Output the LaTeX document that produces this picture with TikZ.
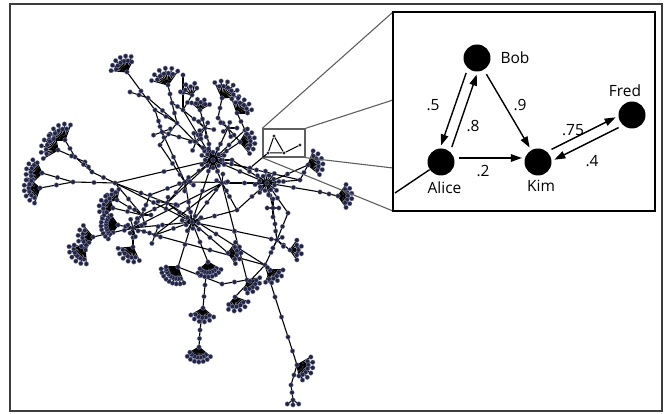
\documentclass[tikz,border=0pt]{standalone}
\usepackage{fontspec}
\setmainfont{Open Sans}
\usetikzlibrary{arrows.meta}
\definecolor{dotfill}{RGB}{34,36,66}
\definecolor{dotrim}{RGB}{140,145,180}
\definecolor{framegray}{RGB}{60,60,60}
\definecolor{zoomgray}{RGB}{95,95,95}
\tikzset{
  dot/.style={circle,fill=dotfill,draw=dotrim,line width=0.3pt,inner sep=0pt,minimum size=4.6pt},
  tdot/.style={circle,fill=dotfill,inner sep=0pt,minimum size=3.4pt},
  edge/.style={line width=1.1pt,black},
  person/.style={circle,fill=black,inner sep=0pt,minimum size=27pt},
  arr/.style={-{Triangle[length=11pt,width=7.5pt]},line width=1.4pt,shorten <=5pt,shorten >=3pt},
  pname/.style={font=\fontsize{15.5}{18}\selectfont},
  zoomline/.style={zoomgray,line width=1.1pt},
}
% hub name / x / y
\newcommand{\hublist}{a1/127/72, a2/168/85, a3/200/110, a4/222/98, a5/237/113, a6/240/142,
  a7/65/140, a8/58/150, a9/42/173, a10/40/188,
  a11/117/200, a12/113/208, a13/118/225, a14/93/237, a15/85/248, a16/133/247,
  a17/178/267, a18/208/262, a19/228/253, a20/247/280, a21/235/297, a22/203/308, a23/199/347,
  a24/270/270, a25/290/250, a26/297/365, a28/308/165, a29/338/196,
  h1/213/160, h2/192/222, h3/267/183, h4/167/203, h5/115/183, h6/73/182,
  h7/277/240, h8/265/265, h9/185/182, h10/222/183, h11/142/215, h12/133/228, h13/155/235,
  h14/237/210, h15/273/208, h16/288/213, h17/183/110, h18/177/123, h19/148/98, h20/155/110,
  h22/288/337, h23/275/297, h25/245/130, h26/320/192, h27/300/180,
  u1/205/128, u2/196/142, u3/228/128, u4/162/132, u5/232/160, u6/192/95,
  n1/130/92, m1/172/103, m2/183/75, m3/218/118, m4/75/157, m5/92/172, m6/85/162,
  m9/222/284, m11/250/168, m12/205/285, m13/200/330, m14/160/145, m17/150/195,
  tail1/291/385, tail2/293/400}
% fan root / direction / leaves / length
\newcommand{\fanlist}{a1/240/12/16, a2/250/11/17, a3/275/7/11, a4/300/11/17,
  a5/305/10/15, a6/355/11/15, a7/235/11/16, a8/205/11/17, a9/190/12/16, a10/165/12/16,
  a11/225/7/11, a12/195/10/14, a13/180/18/17, a14/175/11/15, a15/140/12/16, a16/120/11/15,
  a17/125/18/17, a18/85/16/15, a19/0/9/13, a20/45/10/13, a21/75/10/14, a22/95/11/14,
  a23/95/14/15, a24/55/9/13, a25/0/7/12, a26/25/12/16, a28/345/11/15, a29/0/11/14,
  u6/250/6/12, tail2/90/3/7}
% dense hub / leaves / length / offset
\newcommand{\starlist}{h1/16/12/0, h3/16/12/15, h2/10/10/10, h12/8/9/30, h9/5/9/20,
  h10/5/9/60, h11/5/9/0, h4/4/9/100, h7/5/9/45, h15/4/9/0, u1/5/9/10, u2/5/9/40,
  u3/5/9/0, u4/4/9/70, h13/4/9/20}
% links between hubs
\newcommand{\linklist}{a1/h20, h20/h18, h18/h1, n1/h19, h19/h18, a2/m1, m1/h18, m2/h17, h17/h1,
  h17/m1, a3/u1, u1/h1, a4/m3, m3/u3, u3/h1, a5/h25, h25/h1, a6/h1, m14/h18, m14/h9,
  u6/h17, u4/h20, u4/u2, u2/h1, u1/u2, h17/u1, u3/a6, u5/h1, u5/h3, u4/h9,
  a7/m4, m4/m5, a8/m6, m6/m5, m5/h5, a9/h6, a10/h6, h6/h5, h5/h4, h4/h9, h9/h1, h4/h2, h4/h8,
  a11/h11, a12/h11, a13/h12, a14/h12, a15/a14, a16/h12, h11/h12, h12/h13, h13/h2, h11/h4,
  h12/h2, h11/m17, m17/h9, h5/h11, h5/h2, h5/h1, h13/h10,
  a17/h2, a17/m9, m9/a20, a18/h2, a18/m12, m12/a22, a22/m13, m13/a23,
  a19/h2, a20/h10, a21/h8, a24/h8, a25/h7, h7/h8, h7/h15, h15/h3, h8/h23, h23/h22, h22/a26,
  a26/tail1, tail1/tail2, a28/h3, h3/h26, h26/a29, h3/h27, h27/a28, h27/h1,
  h14/h10, h10/h1, h10/h2, h9/h2, h1/h3, h1/h2, h2/h14, h14/h3, h3/h16, h16/h7, h10/h3,
  h9/h3, m11/h1, h13/h8, h12/h10, h2/h7, h4/h1}

\begin{document}
\begin{tikzpicture}[x=1pt,y=-1pt]
\useasboundingbox (0,0) rectangle (667,414);
\draw[framegray,line width=1.6pt] (10,4) rectangle (662,411);

%hub positions
\foreach \n/\x/\y in \hublist
  \coordinate (\n) at (\x,\y);

%links between hubs, one dot half way
\foreach \a/\b in \linklist
  \draw[edge] (\a) -- coordinate (\a-\b) (\b);

%fans
\foreach \h/\ang/\cnt/\len in \fanlist{
  \foreach \i in {1,...,\cnt}{
    \pgfmathsetmacro{\fanang}{\ang-55+(\i-1)*110/(\cnt-1)}
    \pgfmathsetmacro{\fanrad}{\len*(0.7+0.3*mod(\i,2))}
    \coordinate (\h-\i) at ([shift={(\fanang:\fanrad)}]\h);
    \draw[edge] (\h) -- (\h-\i);
  }
}

%dense hubs
\foreach \h/\cnt/\len/\off in \starlist{
  \foreach \i in {1,...,\cnt}{
    \pgfmathsetmacro{\fanang}{\off+\i*360/\cnt}
    \pgfmathsetmacro{\fanrad}{\len*(0.65+0.35*mod(\i,2))}
    \coordinate (\h-s\i) at ([shift={(\fanang:\fanrad)}]\h);
    \draw[edge] (\h) -- (\h-s\i);
  }
}

%dots on top
\foreach \n/\x/\y in \hublist
  \node[dot] (d-\n) at (\n) {};
\foreach \a/\b in \linklist
  \node[dot] (d-\a-\b) at (\a-\b) {};
\foreach \h/\ang/\cnt/\len in \fanlist
  \foreach \i in {1,...,\cnt}
    \node[dot] (d-\h-\i) at (\h-\i) {};
\foreach \h/\cnt/\len/\off in \starlist
  \foreach \i in {1,...,\cnt}
    \node[dot] (d-\h-s\i) at (\h-s\i) {};

%zoom box and lines
\node[draw=zoomgray,line width=1.4pt,minimum width=42pt,minimum height=28pt,inner sep=0pt] (zbox) at (284,143) {};
\node[tdot] (tb) at (274,136) {};
\node[tdot] (ta) at (268,153) {};
\node[tdot] (tk) at (284,153) {};
\node[tdot] (tf) at (300,145) {};
\draw[line width=1pt] (ta) -- (tb) -- (tk) -- (ta);
\draw[line width=1pt] (tk) -- (tf);
\draw[edge] (ta) -- (d-m11);
\coordinate (inL1) at (393,100);
\coordinate (inL2) at (393,168);
\draw[zoomline] (zbox.north west) -- (393,12);
\draw[zoomline] (zbox.north east) -- (inL1);
\draw[zoomline] (zbox.south east) -- (inL2);
\draw[zoomline] (zbox.south west) -- (393,211);

%inset
\node[draw=black,line width=2.6pt,fill=white,minimum width=262pt,minimum height=199pt,inner sep=0pt] (inset) at (524,111.5) {};
\node[person] (bob) at (477,58) {};
\node[person] (alice) at (441,162) {};
\node[person] (kim) at (538,162) {};
\node[person] (fred) at (632,115) {};
\node[pname] (bobname) at (515,57.5) {Bob};
\node[pname] (fredname) at (625,91) {Fred};
\node[pname] (alicename) at (444.5,188) {Alice};
\node[pname] (kimname) at (541,186) {Kim};
\draw[arr] (bob.228) -- (alice.94);
\draw[arr] (alice.48) -- (bob.273);
\draw[arr] (bob.-60) -- (kim.120);
\draw[arr] (alice.17) -- (kim.163);
\draw[arr] (kim.49) -- (fred.184);
\draw[arr] (fred.229) -- (kim.4);
\coordinate (aliceout) at (395,193);
\draw[line width=1.4pt] (alice.214) -- (aliceout);
\node[pname] (w1) at (433,105) {.5};
\node[pname] (w2) at (473,126) {.8};
\node[pname] (w3) at (520,105) {.9};
\node[pname] (w4) at (483,171) {.2};
\node[pname] (w5) at (573,130) {.75};
\node[pname] (w6) at (592,161) {.4};
\end{tikzpicture}
\end{document}
